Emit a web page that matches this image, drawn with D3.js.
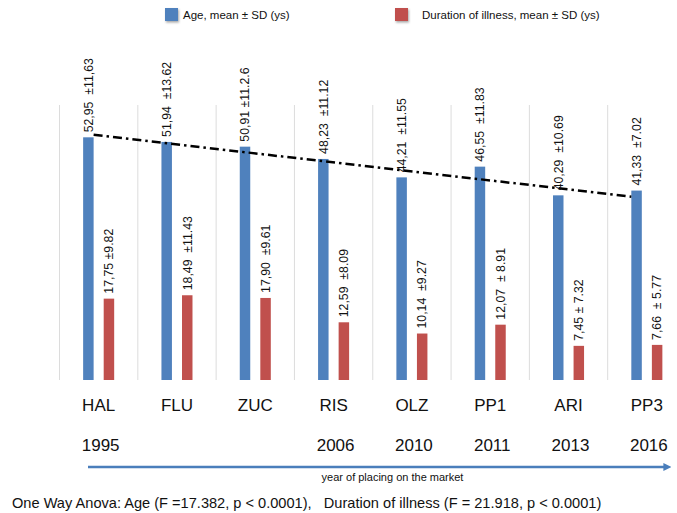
<!DOCTYPE html>
<html>
<head>
<meta charset="utf-8">
<script src="https://cdnjs.cloudflare.com/ajax/libs/d3/7.8.5/d3.min.js"></script>
<style>
  html, body { margin: 0; padding: 0; background: #fff; }
  svg { display: block; font-family: "Liberation Sans", Arial, Helvetica, sans-serif; }
  text { white-space: pre; }
</style>
</head>
<body>
<svg id="chart" width="677" height="513"></svg>
<script>
// ---- data ----
const categories = ["HAL", "FLU", "ZUC", "RIS", "OLZ", "PP1", "ARI", "PP3"];
const years = ["1995", "", "", "2006", "2010", "2011", "2013", "2016"];
const ageMean = [52.95, 51.94, 50.91, 48.23, 44.21, 46.55, 40.29, 41.33];
const durMean = [17.75, 18.49, 17.90, 12.59, 10.14, 12.07, 7.45, 7.66];
const ageLabels = ["52,95  ±11,63", "51,94  ±13.62", "50,91 ±11.2.6", "48,23  ±11.12",
                   "44,21  ±11.55", "46,55  ±11.83", "40,29  ±10.69", "41,33  ±7.02"];
const durLabels = ["17,75 ±9.82", "18,49  ±11.43", "17,90  ±9.61", "12,59  ±8.09",
                   "10,14  ±9.27", "12,07  ± 8.91", "7,45 ± 7.32", "7,66  ± 5.77"];
const seriesNames = ["Age, mean ± SD (ys)", "Duration of illness, mean ± SD (ys)"];
const trendValues = [53.5, 40.0]; // dash-dot trend of age, start and end
const yDomain = [0, 60];
const axisCaption = "year of placing on the market";
const footnote = "One Way Anova: Age (F =17.382, p < 0.0001),   Duration of illness (F = 21.918, p < 0.0001)";

// ---- styles ----
const BLUE = "#4F81BD", RED = "#C0504D";

const svg = d3.select("#chart");

const x = d3.scaleBand().domain(categories).range([59.5, 686]).paddingInner(0).paddingOuter(0);
const xs = d3.scaleBand().domain(["age", "dur"]).range([0, x.bandwidth()]).paddingInner(0.49).paddingOuter(1.15);
const y = d3.scaleLinear().domain(yDomain).range([380, 105]);

// gridlines at category boundaries
const bounds = categories.map(c => x(c)).concat([x(categories[categories.length - 1]) + x.bandwidth()]);
svg.append("g").selectAll("line").data(bounds).join("line")
  .attr("x1", d => d).attr("x2", d => d)
  .attr("y1", y(yDomain[1])).attr("y2", y(0))
  .attr("stroke", "#dcdcdc").attr("stroke-width", 1);

const rows = categories.map((c, i) => ({ c, i, age: ageMean[i], dur: durMean[i], al: ageLabels[i], dl: durLabels[i] }));

// bars
svg.append("g").selectAll("rect").data(rows).join("rect")
  .attr("x", d => x(d.c) + xs("age")).attr("width", xs.bandwidth())
  .attr("y", d => y(d.age)).attr("height", d => y(0) - y(d.age))
  .attr("fill", BLUE);
svg.append("g").selectAll("rect").data(rows).join("rect")
  .attr("x", d => x(d.c) + xs("dur")).attr("width", xs.bandwidth())
  .attr("y", d => y(d.dur)).attr("height", d => y(0) - y(d.dur))
  .attr("fill", RED);

// trend line (dash-dot)
const first = categories[0], last = categories[categories.length - 1];
svg.append("line")
  .attr("x1", x(first) + xs("age") + xs.bandwidth()).attr("y1", y(trendValues[0]))
  .attr("x2", x(last) + xs("age")).attr("y2", y(trendValues[1]))
  .attr("stroke", "#000").attr("stroke-width", 2.5)
  .attr("stroke-dasharray", "9,4,2.5,4");

// rotated value labels
function vlabel(sel, key, lab, sub) {
  sel.selectAll("text").data(rows).join("text")
    .attr("transform", d => `translate(${x(d.c) + xs(sub) + xs.bandwidth() / 2},${y(d[key]) - 5}) rotate(-90)`)
    .attr("dy", "0.35em")
    .attr("font-size", 12.3).attr("fill", "#111")
    .text(d => d[lab]);
}
vlabel(svg.append("g"), "age", "al", "age");
vlabel(svg.append("g"), "dur", "dl", "dur");

// category labels and years
svg.append("g").selectAll("text").data(rows).join("text")
  .attr("x", d => x(d.c) + x.bandwidth() / 2).attr("y", 411)
  .attr("text-anchor", "middle").attr("font-size", 17).attr("fill", "#111")
  .text(d => d.c);
svg.append("g").selectAll("text").data(rows).join("text")
  .attr("x", d => x(d.c) + x.bandwidth() / 2 + 2).attr("y", 451)
  .attr("text-anchor", "middle").attr("font-size", 17).attr("fill", "#111")
  .text(d => years[d.i]);

// arrow
const defs = svg.append("defs");
defs.append("marker").attr("id", "arr").attr("viewBox", "0 0 10 10")
  .attr("refX", 2).attr("refY", 5).attr("markerWidth", 3.2).attr("markerHeight", 3.2)
  .attr("orient", "auto")
  .append("path").attr("d", "M0,0 L10,5 L0,10 Z").attr("fill", "#4A7EBB");
svg.append("line").attr("x1", 88).attr("x2", 665).attr("y1", 467).attr("y2", 467)
  .attr("stroke", "#4A7EBB").attr("stroke-width", 2.5).attr("marker-end", "url(#arr)");

svg.append("text").attr("x", 392.5).attr("y", 481).attr("text-anchor", "middle")
  .attr("font-size", 11).attr("fill", "#111").text(axisCaption);

svg.append("text").attr("x", 12).attr("y", 508).attr("font-size", 14.6).attr("fill", "#111")
  .text(footnote);

// legend
defs.append("filter").attr("id", "sh").attr("x", "-30%").attr("y", "-30%").attr("width", "170%").attr("height", "170%")
  .html('<feDropShadow dx="1" dy="1.5" stdDeviation="1" flood-color="#000" flood-opacity="0.35"/>');
const legX = [165, 395];
const leg = svg.append("g").selectAll("g").data(seriesNames).join("g")
  .attr("transform", (d, i) => `translate(${legX[i]},8)`);
leg.append("rect").attr("width", 13).attr("height", 13)
  .attr("fill", (d, i) => i === 0 ? BLUE : RED).attr("filter", "url(#sh)");
leg.append("text").attr("x", (d, i) => i === 0 ? 18 : 27).attr("y", 10.5)
  .attr("font-size", 11.5).attr("fill", "#111").text(d => d);
</script>
</body>
</html>
